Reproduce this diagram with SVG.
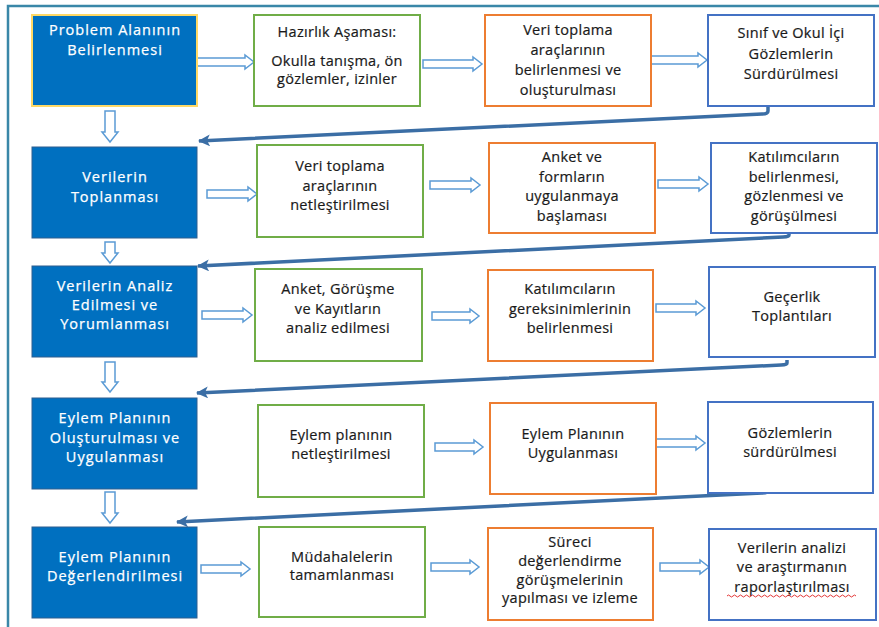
<svg xmlns="http://www.w3.org/2000/svg" width="879" height="627" viewBox="0 0 879 627">
<style>
text{font-family:"Open Sans","DejaVu Sans",sans-serif;font-size:14.5px;text-anchor:middle;letter-spacing:0.3px}
.wt{fill:#ffffff;letter-spacing:1px;stroke:#ffffff;stroke-width:0.25}
.bk{fill:#1a1a1a;stroke:#1a1a1a;stroke-width:0.2}
.bf{fill:#0070C0;stroke:#2F5F8F;stroke-width:1}
.gr{fill:#ffffff;stroke:#70AD47;stroke-width:2}
.or{fill:#ffffff;stroke:#ED7D31;stroke-width:2}
.bl{fill:#ffffff;stroke:#4472C4;stroke-width:2}
.ba{fill:#ffffff;stroke:#5B9BD5;stroke-width:1.5;stroke-linejoin:miter}
.cn{fill:none;stroke:#3B6EA5;stroke-width:3.5;stroke-linejoin:round}
</style>
<defs>
<marker id="ah" markerUnits="userSpaceOnUse" markerWidth="14" markerHeight="12" refX="11" refY="6" orient="auto">
<path d="M0,0 L12,6 L0,12 L3,6 Z" fill="#3B6EA5"/>
</marker>
</defs>
<rect width="879" height="627" fill="#ffffff"/>
<path d="M8,627 L8,6 L879,6" fill="none" stroke="#3A87A8" stroke-width="2.5"/>

<g id="connectors">
<path class="ba" d="M197,58 H245 V55 L254,62 L245,69 V66 H197 Z"/>
<path class="ba" d="M423,60 H473 V57 L482,64 L473,71 V68 H423 Z"/>
<path class="ba" d="M651,56 H698 V53 L707,60 L698,67 V64 H651 Z"/>
<path class="ba" d="M207,190 H248 V187 L257,194 L248,201 V198 H207 Z"/>
<path class="ba" d="M430,181 H471 V178 L480,185 L471,192 V189 H430 Z"/>
<path class="ba" d="M658,180 H699 V177 L708,184 L699,191 V188 H658 Z"/>
<path class="ba" d="M202,311 H243 V308 L252,315 L243,322 V319 H202 Z"/>
<path class="ba" d="M432,312 H470 V309 L479,316 L470,323 V320 H432 Z"/>
<path class="ba" d="M656,304 H696 V301 L705,308 L696,315 V312 H656 Z"/>
<path class="ba" d="M435,443 H474 V440 L483,447 L474,454 V451 H435 Z"/>
<path class="ba" d="M656,439 H696 V436 L705,443 L696,450 V447 H656 Z"/>
<path class="ba" d="M201,565 H241 V562 L250,569 L241,576 V573 H201 Z"/>
<path class="ba" d="M431,563 H470 V560 L479,567 L470,574 V571 H431 Z"/>
<path class="ba" d="M660,563 H700 V560 L709,567 L700,574 V571 H660 Z"/>
<path class="ba" d="M105,111 H115 V132 H118 L110,142 L102,132 H105 Z"/>
<path class="ba" d="M105,242 H115 V253 H118 L110,263 L102,253 H105 Z"/>
<path class="ba" d="M105,362 H115 V382 H118 L110,392 L102,382 H105 Z"/>
<path class="ba" d="M105,492 H115 V513 H118 L110,523 L102,513 H105 Z"/>
<path class="cn" d="M768,105 L768,111 Q768,114 762,114 L199,141" marker-end="url(#ah)"/>
<path class="cn" d="M789,232 L789,235 Q789,237 783,237 L198,266" marker-end="url(#ah)"/>
<path class="cn" d="M787,360 L787,363 Q787,365 781,365 L197,393" marker-end="url(#ah)"/>
<path class="cn" d="M768,488 L768,491 Q768,493 762,493 L177,522" marker-end="url(#ah)"/>
</g>

<g id="n1"><rect class="bf" x="32" y="15" width="165" height="91" style="stroke:#FFD966;stroke-width:2"/><text class="wt" x="115" y="35">Problem Alanının</text><text class="wt" x="115" y="55">Belirlenmesi</text></g>
<g id="n2"><rect class="gr" x="254" y="15" width="166" height="91"/><text class="bk" x="337" y="37">Hazırlık Aşaması:</text><text class="bk" x="337" y="66">Okulla tanışma, ön</text><text class="bk" x="337" y="84">gözlemler, izinler</text></g>
<g id="n3"><rect class="or" x="485" y="15" width="166" height="91"/><text class="bk" x="568" y="35">Veri toplama</text><text class="bk" x="568" y="55">araçlarının</text><text class="bk" x="568" y="75">belirlenmesi ve</text><text class="bk" x="568" y="95">oluşturulması</text></g>
<g id="n4"><rect class="bl" x="708" y="15" width="166" height="91"/><text class="bk" x="791" y="38">Sınıf ve Okul İçi</text><text class="bk" x="791" y="59">Gözlemlerin</text><text class="bk" x="791" y="79">Sürdürülmesi</text></g>

<g id="n5"><rect class="bf" x="32" y="147" width="165" height="91"/><text class="wt" x="115" y="182">Verilerin</text><text class="wt" x="115" y="202">Toplanması</text></g>
<g id="n6"><rect class="gr" x="257" y="145" width="166" height="92"/><text class="bk" x="340" y="171">Veri toplama</text><text class="bk" x="340" y="191">araçlarının</text><text class="bk" x="340" y="210">netleştirilmesi</text></g>
<g id="n7"><rect class="or" x="489" y="143" width="166" height="90"/><text class="bk" x="572" y="162">Anket ve</text><text class="bk" x="572" y="182">formların</text><text class="bk" x="572" y="201">uygulanmaya</text><text class="bk" x="572" y="221">başlaması</text></g>
<g id="n8"><rect class="bl" x="711" y="143" width="166" height="90"/><text class="bk" x="794" y="162">Katılımcıların</text><text class="bk" x="794" y="182">belirlenmesi,</text><text class="bk" x="794" y="201">gözlenmesi ve</text><text class="bk" x="794" y="221">görüşülmesi</text></g>

<g id="n9"><rect class="bf" x="32" y="266" width="165" height="91"/><text class="wt" x="115" y="291">Verilerin Analiz</text><text class="wt" x="115" y="310">Edilmesi ve</text><text class="wt" x="115" y="329">Yorumlanması</text></g>
<g id="n10"><rect class="gr" x="255" y="269" width="167" height="92"/><text class="bk" x="338" y="294">Anket, Görüşme</text><text class="bk" x="338" y="314">ve Kayıtların</text><text class="bk" x="338" y="333">analiz edilmesi</text></g>
<g id="n11"><rect class="or" x="488" y="270" width="165" height="91"/><text class="bk" x="570" y="294">Katılımcıların</text><text class="bk" x="570" y="314">gereksinimlerinin</text><text class="bk" x="570" y="333">belirlenmesi</text></g>
<g id="n12"><rect class="bl" x="709" y="267" width="166" height="90"/><text class="bk" x="792" y="302">Geçerlik</text><text class="bk" x="792" y="321">Toplantıları</text></g>

<g id="n13"><rect class="bf" x="32" y="398" width="165" height="91"/><text class="wt" x="115" y="423">Eylem Planının</text><text class="wt" x="115" y="443">Oluşturulması ve</text><text class="wt" x="115" y="462">Uygulanması</text></g>
<g id="n14"><rect class="gr" x="258" y="405" width="166" height="92"/><text class="bk" x="341" y="440">Eylem planının</text><text class="bk" x="341" y="459">netleştirilmesi</text></g>
<g id="n15"><rect class="or" x="490" y="403" width="166" height="91"/><text class="bk" x="573" y="439">Eylem Planının</text><text class="bk" x="573" y="458">Uygulanması</text></g>
<g id="n16"><rect class="bl" x="708" y="402" width="165" height="91"/><text class="bk" x="790" y="438">Gözlemlerin</text><text class="bk" x="790" y="457">sürdürülmesi</text></g>

<g id="n17"><rect class="bf" x="32" y="527" width="165" height="91"/><text class="wt" x="115" y="562">Eylem Planının</text><text class="wt" x="115" y="581">Değerlendirilmesi</text></g>
<g id="n18"><rect class="gr" x="259" y="527" width="166" height="90"/><text class="bk" x="342" y="562">Müdahalelerin</text><text class="bk" x="342" y="580">tamamlanması</text></g>
<g id="n19"><rect class="or" x="488" y="528" width="165" height="92"/><text class="bk" x="570" y="547">Süreci</text><text class="bk" x="570" y="566">değerlendirme</text><text class="bk" x="570" y="585">görüşmelerinin</text><text class="bk" x="570" y="603">yapılması ve izleme</text></g>
<g id="n20"><rect class="bl" x="709" y="529" width="167" height="91"/><text class="bk" x="792" y="553">Verilerin analizi</text><text class="bk" x="792" y="572">ve araştırmanın</text><text class="bk" x="792" y="592">raporlaştırılması</text>
<path d="M727,596 q1.5,-2 3,0 t3,0 t3,0 t3,0 t3,0 t3,0 t3,0 t3,0 t3,0 t3,0 t3,0 t3,0 t3,0 t3,0 t3,0 t3,0 t3,0 t3,0 t3,0 t3,0 t3,0 t3,0 t3,0 t3,0 t3,0 t3,0 t3,0 t3,0 t3,0 t3,0 t3,0 t3,0 t3,0 t3,0 t3,0 t3,0 t3,0 t3,0 t3,0 t3,0 t3,0 t3,0 t3,0" fill="none" stroke="#E02020" stroke-width="0.9"/></g>
</svg>
